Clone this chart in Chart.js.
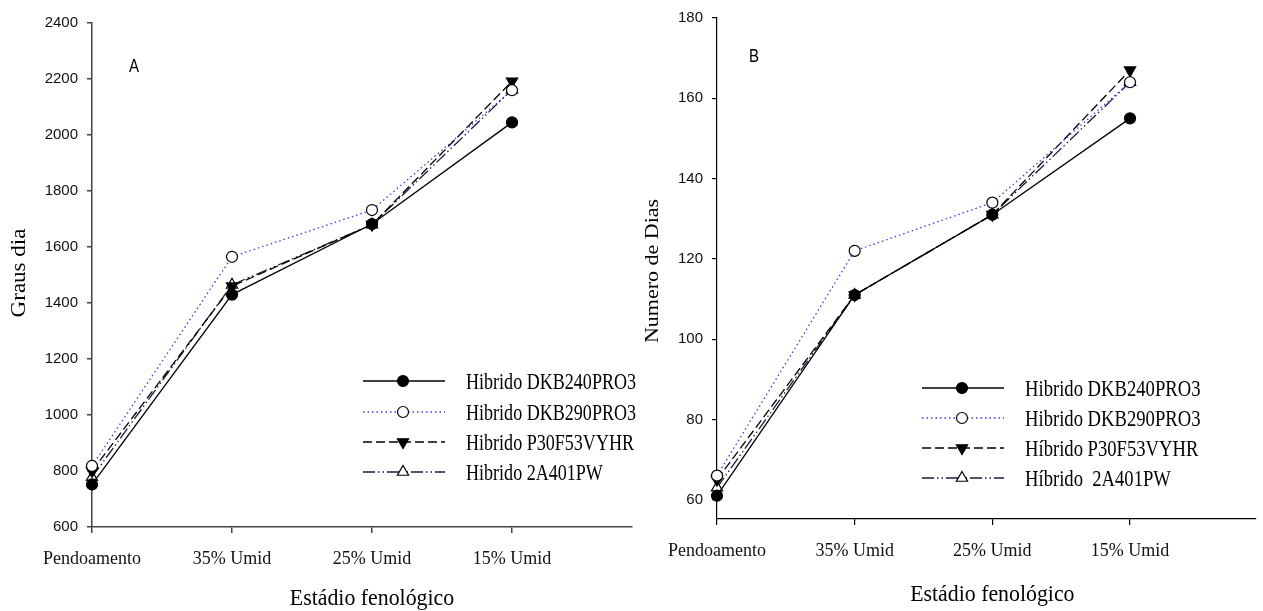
<!DOCTYPE html>
<html><head><meta charset="utf-8">
<script src="https://cdn.jsdelivr.net/npm/chart.js@4.4.1/dist/chart.umd.min.js"></script>
<style>
html,body{margin:0;padding:0;background:#fff;overflow:hidden}
#wrapA{position:absolute;left:0;top:0;width:640px;height:611px}
#wrapB{position:absolute;left:630px;top:0;width:633px;height:611px}
</style></head><body>
<div id="wrapA"><canvas id="cA" width="640" height="611"></canvas></div>
<div id="wrapB"><canvas id="cB" width="633" height="611"></canvas></div>
<script>
// ---- data ----
const stages = ['Pendoamento', '35% Umid', '25% Umid', '15% Umid'];
const namesA = ['Hibrido DKB240PRO3', 'Hibrido DKB290PRO3', 'Hibrido P30F53VYHR', 'Hibrido 2A401PW'];
const namesB = ['Hibrido DKB240PRO3', 'Hibrido DKB290PRO3', 'Híbrido P30F53VYHR', 'Híbrido  2A401PW'];
const grausDKB240 = [752, 1430, 1682, 2045];
const grausDKB290 = [818, 1565, 1732, 2160];
const grausP30F53 = [800, 1460, 1680, 2192];
const graus2A401 = [778, 1465, 1680, 2162];
const diasDKB240 = [61, 111, 131, 155];
const diasDKB290 = [66, 122, 134, 164];
const diasP30F53 = [65, 111, 131, 167];
const dias2A401 = [63, 111, 131, 164];
const ticksA = [600, 800, 1000, 1200, 1400, 1600, 1800, 2000, 2200, 2400];
const ticksB = [60, 80, 100, 120, 140, 160, 180];
const xTitle = 'Estádio fenológico';
const yTitleA = 'Graus dia';
const yTitleB = 'Numero de Dias';

// ---- styles ----
const styles = [
  {borderColor:'#000', borderDash:[], pointStyle:'circle', pointRadius:5.5, pointBackgroundColor:'#000', pointBorderColor:'#000', pointRotation:0},
  {borderColor:'#3a3af0', borderDash:[1.5,3], pointStyle:'circle', pointRadius:5.5, pointBackgroundColor:'#fff', pointBorderColor:'#000', pointRotation:0},
  {borderColor:'#000', borderDash:[9,4], pointStyle:'triangle', pointRadius:6.5, pointBackgroundColor:'#000', pointBorderColor:'#000', pointRotation:180},
  {borderColor:'#1a1a40', borderDash:[12,3,1.5,3,1.5,3], pointStyle:'triangle', pointRadius:6.5, pointBackgroundColor:'#fff', pointBorderColor:'#000', pointRotation:0}
];

function toPoints(vals){ return vals.map((v,i)=>({x:i, y:v})); }
function makeDatasets(names, seriesList){
  return seriesList.map((vals,i)=>Object.assign({
    label:names[i], data:toPoints(vals), borderWidth:1.3, pointBorderWidth:1.2,
    pointHoverRadius:6, fill:false, tension:0, clip:false
  }, styles[i]));
}

function drawMarker(ctx, ds, x, y){
  const r = ds.pointRadius;
  let a = (ds.pointRotation||0)*Math.PI/180;
  ctx.beginPath();
  if(ds.pointStyle==='circle'){ ctx.arc(x,y,r,0,Math.PI*2); }
  else {
    ctx.moveTo(x+Math.sin(a)*r, y-Math.cos(a)*r); a+=2*Math.PI/3;
    ctx.lineTo(x+Math.sin(a)*r, y-Math.cos(a)*r); a+=2*Math.PI/3;
    ctx.lineTo(x+Math.sin(a)*r, y-Math.cos(a)*r); ctx.closePath();
  }
  ctx.fillStyle = ds.pointBackgroundColor; ctx.fill();
  ctx.lineWidth = ds.pointBorderWidth; ctx.strokeStyle = ds.pointBorderColor; ctx.stroke();
}

// text drawn with a horizontal squeeze (the original figure's lettering is condensed)
function squeezedText(ctx, text, x, y, font, sx, align, rotate){
  ctx.save();
  ctx.translate(x, y);
  if(rotate){ ctx.rotate(-Math.PI/2); ctx.scale(1, sx); } else { ctx.scale(sx, 1); }
  ctx.font = font; ctx.textAlign = align; ctx.textBaseline = 'alphabetic'; ctx.fillStyle = '#000';
  ctx.fillText(text, 0, 0);
  ctx.restore();
}

const inLegend = {
  id:'inLegend',
  afterDatasetsDraw(chart, args, o){
    const ctx = chart.ctx;
    chart.data.datasets.forEach((ds,i)=>{
      const y = o.rows[i];
      ctx.save();
      ctx.strokeStyle = ds.borderColor; ctx.lineWidth = ds.borderWidth;
      ctx.setLineDash(ds.borderDash||[]);
      ctx.beginPath(); ctx.moveTo(o.x1,y); ctx.lineTo(o.x2,y); ctx.stroke();
      ctx.setLineDash([]);
      drawMarker(ctx, ds, o.xm, y);
      ctx.restore();
      squeezedText(ctx, ds.label, o.xt, y + o.baseOff, o.font, o.sx, 'left', false);
    });
  }
};

const annot = {
  id:'annot',
  afterDraw(chart, args, o){
    const ctx = chart.ctx, xs = chart.scales.x;
    squeezedText(ctx, o.xTitle, xs.getPixelForValue(o.xTitleAt), o.xTitleY, o.xTitleFont, o.xTitleSx, 'center', false);
    squeezedText(ctx, o.letter, o.letterX, o.letterY, o.letterFont, 0.86, 'center', false);
    squeezedText(ctx, o.yTitle, o.yTitleX, o.yTitleY, o.yTitleFont, 0.87, 'center', true);
  }
};

function makeChart(id, c){
  return new Chart(document.getElementById(id), {
    type:'line',
    data:{ datasets: c.datasets },
    options:{
      responsive:false, animation:false, devicePixelRatio:1,
      layout:{ padding:c.padding },
      plugins:{ legend:{display:false}, tooltip:{enabled:false}, inLegend:c.legend, annot:c.annot },
      scales:{
        x:{
          type:'linear', min:0, max:c.xMax,
          afterFit(s){ s.height = c.xH; },
          afterBuildTicks(s){ s.ticks = stages.map((_,i)=>({value:i})); },
          ticks:{ callback:(v)=>stages[v], font:{family:'Liberation Serif', size:18}, color:'#111', padding:15, maxRotation:0, autoSkip:false },
          grid:{ drawOnChartArea:false, drawTicks:true, tickLength:6, color:c.axisColor, lineWidth:c.axisW },
          border:{ display:true, color:c.axisColor, width:c.axisW }
        },
        y:{
          type:'linear', min:c.yMin, max:c.yMax,
          afterFit(s){ s.width = c.yW; },
          afterBuildTicks(s){ s.ticks = c.yTicks.map(v=>({value:v})); },
          ticks:{ callback:(v)=>String(v), font:{family:'Liberation Sans', size:15}, color:'#111', padding:9 },
          grid:{ drawOnChartArea:false, drawTicks:true, tickLength:5, color:c.axisColor, lineWidth:c.axisW },
          border:{ display:true, color:c.axisColor, width:c.axisW }
        }
      }
    },
    plugins:[inLegend, annot]
  });
}

makeChart('cA', {
  datasets: makeDatasets(namesA, [grausDKB240, grausDKB290, grausP30F53, graus2A401]),
  padding:{left:0, top:23, right:8, bottom:0},
  xMax:3.857, xH:84, yW:92, yMin:600, yMax:2400, yTicks:ticksA,
  axisColor:'#444', axisW:1.5,
  legend:{ x1:363, x2:445, xm:403, xt:466, rows:[381,412,442,472], font:'23px "Liberation Serif"', sx:0.785, baseOff:7.5 },
  annot:{ xTitle:xTitle, xTitleAt:2, xTitleY:605, xTitleFont:'24px "Liberation Serif"', xTitleSx:0.91,
          yTitle:yTitleA, yTitleX:25, yTitleY:273, yTitleFont:'23px "Liberation Serif"',
          letter:'A', letterX:134, letterY:72, letterFont:'17.5px "Liberation Sans"' }
});

makeChart('cB', {
  datasets: makeDatasets(namesB, [diasDKB240, diasDKB290, diasP30F53, dias2A401]),
  padding:{left:0, top:17, right:0, bottom:0},
  xMax:3.91, xH:92, yW:87, yMin:55.2, yMax:180, yTicks:ticksB,
  axisColor:'#000', axisW:1.2,
  legend:{ x1:292, x2:374, xm:332, xt:395, rows:[388,418,448,478], font:'23px "Liberation Serif"', sx:0.81, baseOff:7.5 },
  annot:{ xTitle:xTitle, xTitleAt:2, xTitleY:601, xTitleFont:'24px "Liberation Serif"', xTitleSx:0.91,
          yTitle:yTitleB, yTitleX:28, yTitleY:271, yTitleFont:'22px "Liberation Serif"',
          letter:'B', letterX:124, letterY:62, letterFont:'17.5px "Liberation Sans"' }
});
</script>
</body></html>
